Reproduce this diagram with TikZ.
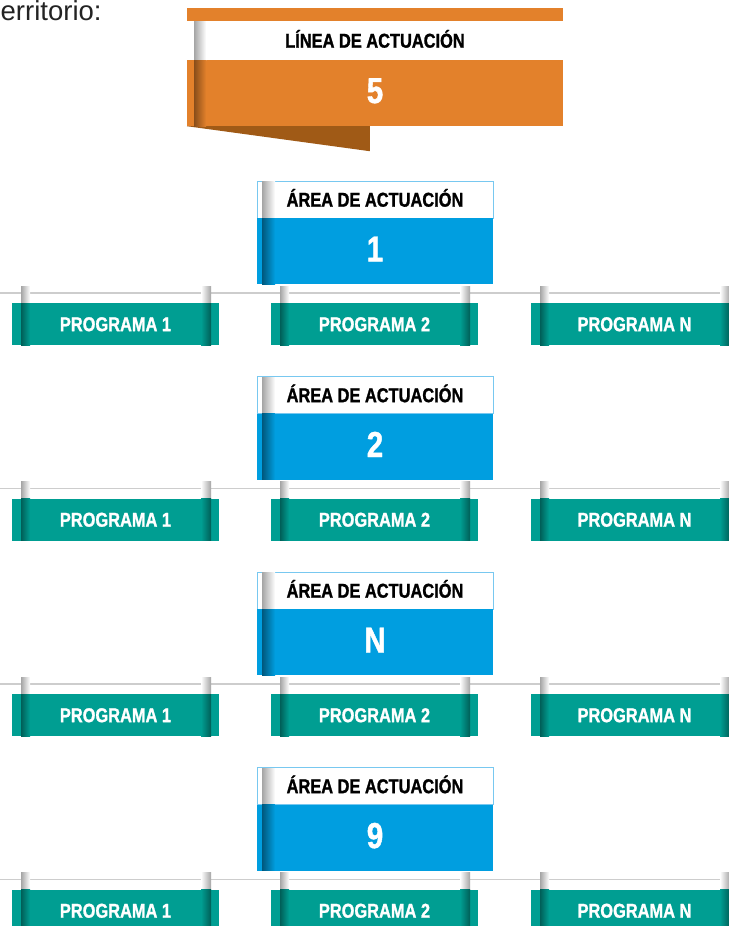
\documentclass[tikz,border=0pt]{standalone}
\usepackage{fontspec}
\setmainfont{Liberation Sans}
\newfontfamily\cond[FakeStretch=0.82,BoldFeatures={FakeBold=1.2}]{Liberation Sans}
\definecolor{banorange}{RGB}{227,129,43}
\definecolor{banfold}{RGB}{160,90,22}
\definecolor{areablue}{RGB}{0,158,224}
\definecolor{areaedge}{RGB}{120,200,240}
\definecolor{progteal}{RGB}{0,158,146}
\definecolor{shadegray}{RGB}{165,165,165}
\definecolor{linegray}{RGB}{205,205,205}
\definecolor{textgray}{RGB}{35,35,35}
\begin{document}
\begin{tikzpicture}[x=1pt,y=-1pt,
  band/.style={fill=white,draw=areaedge,line width=0.8pt,minimum width=236pt,minimum height=37pt,inner sep=0pt,
    font=\cond\bfseries\fontsize{20}{20}\selectfont,text=black,text height=14.3pt,text depth=0pt},
  areanum/.style={fill=areablue,minimum width=236pt,minimum height=66pt,inner sep=0pt,
    font=\cond\bfseries\fontsize{36}{36}\selectfont,text=white,text height=26pt,text depth=5pt},
  prog/.style={fill=progteal,minimum width=207pt,minimum height=42pt,inner sep=0pt,
    font=\cond\bfseries\fontsize{20}{20}\selectfont,text=white,text height=14.3pt,text depth=0pt},
  progtext/.style={prog,fill=none},
  hline/.style={draw=linegray,line width=1.5pt}
]
\useasboundingbox (0,0) rectangle (728,926);
\fill[white] (0,0) rectangle (728,926);

% intro text
\node[anchor=base west,inner sep=0pt,font=\fontsize{27.5}{27.5}\selectfont,text=textgray] (terr) at (0.5,20) {erritorio:};

% top banner
\node[fill=banorange,minimum width=376pt,minimum height=13pt,inner sep=0pt] (ltop) at (375,14.5) {};
\node[fill=white,minimum width=376pt,minimum height=39pt,inner sep=0pt,
  font=\cond\bfseries\fontsize{20}{20}\selectfont,text=black,text height=14.3pt,text depth=0pt] (ltitle) at (375,40.5) {LÍNEA DE ACTUACIÓN};
\node[fill=banorange,minimum width=376pt,minimum height=66pt,inner sep=0pt,
  font=\cond\bfseries\fontsize{36}{36}\selectfont,text=white,text height=26pt,text depth=6pt] (lnum) at (375,93) {5};
\fill[banfold] (lnum.south west) -- ++(183,0) -- ++(0,25) -- cycle;
\shade[left color=shadegray,right color=white] (194,21) rectangle (206,60);
\shade[left color=banorange!60!black,right color=banorange] (194,60) rectangle (206,126);

\foreach \k/\lab in {0/1,1/2,2/N,3/9}{
  \pgfmathsetmacro\off{195.5*\k}
  % horizontal line
  \coordinate (hs\k) at (0,293+\off);
  \coordinate (he\k) at (728,293+\off);
  \draw[hline] (hs\k) -- (he\k);
  % area
  \node[band] (at\k) at (375,199.5+\off) {ÁREA DE ACTUACIÓN};
  \node[areanum] (an\k) at (375,251+\off) {\lab};
  \shade[left color=shadegray,right color=white] (262,181.5+\off) rectangle (275,217.5+\off);
  \shade[left color=areablue!55!black,right color=areablue] (262,218+\off) rectangle (275,284+\off);
  % programs
  \foreach \j/\px/\pl in {1/115.5/PROGRAMA 1,2/374.5/PROGRAMA 2,3/634.5/PROGRAMA N}{
    \pgfmathsetmacro\L{\px-103.5}
    \pgfmathsetmacro\R{\px+103.5}
    % folds above the box
    \shade[left color=shadegray,right color=white] (\L+9,286+\off) rectangle (\L+18,303+\off);
    \shade[left color=white,right color=shadegray] (\R-18,286+\off) rectangle (\R-8,303+\off);
    \node[prog] (p\k\j) at (\px,324+\off) {};
    \shade[left color=progteal!60!black,right color=progteal] (\L+9,303+\off) rectangle (\L+18,345+\off);
    \shade[left color=progteal,right color=progteal!60!black] (\R-18,303+\off) rectangle (\R-8,345+\off);
    \node[progtext] (pt\k\j) at (p\k\j.center) {\pl};
  }
}
\end{tikzpicture}
\end{document}
